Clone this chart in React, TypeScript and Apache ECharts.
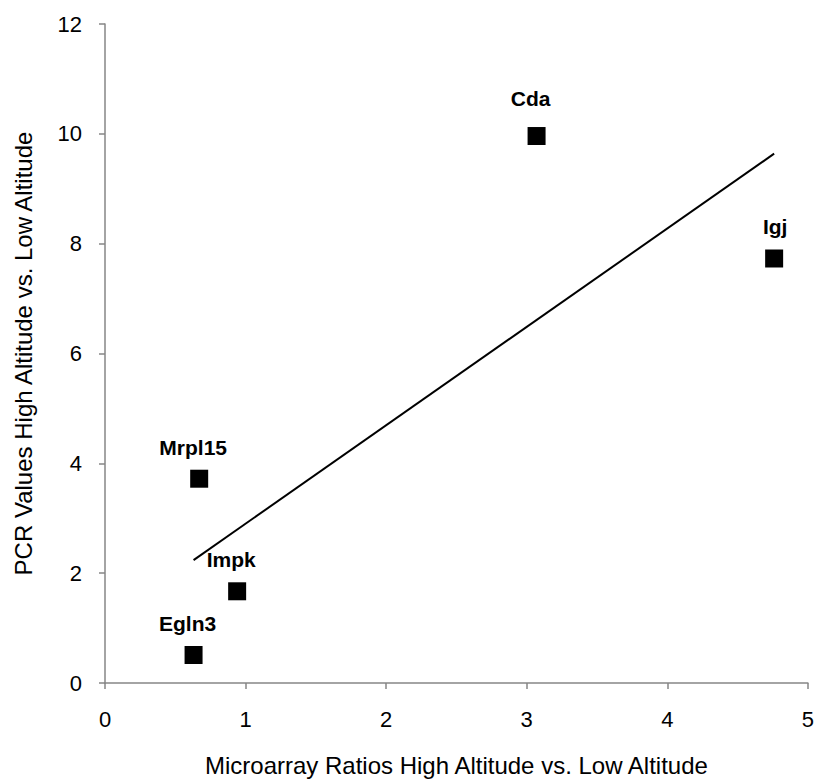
import React, { useEffect, useRef } from "react";
import * as echarts from "echarts";

// Gene names and their expression ratios
const genes = ["Cda", "Igj", "Mrpl15", "Impk", "Egln3"];
const microarrayRatios = [3.07, 4.76, 0.67, 0.94, 0.63];
const pcrValues = [9.96, 7.73, 3.72, 1.67, 0.51];

const xTicks = [0, 1, 2, 3, 4, 5];
const yTicks = [0, 2, 4, 6, 8, 10, 12];

// Least-squares trendline through the points
function trendline(xs: number[], ys: number[]) {
  const n = xs.length;
  const mx = xs.reduce((a, b) => a + b, 0) / n;
  const my = ys.reduce((a, b) => a + b, 0) / n;
  let sxy = 0;
  let sxx = 0;
  for (let i = 0; i < n; i++) {
    sxy += (xs[i] - mx) * (ys[i] - my);
    sxx += (xs[i] - mx) * (xs[i] - mx);
  }
  const slope = sxy / sxx;
  const intercept = my - slope * mx;
  const x0 = Math.min(...xs);
  const x1 = Math.max(...xs);
  return [
    [x0, intercept + slope * x0],
    [x1, intercept + slope * x1],
  ];
}

const FONT = "'Liberation Sans', Arial, sans-serif";

// Per-label nudges for a couple of the gene names
const labelTweaks: Record<string, any> = {
  Cda: { distance: 18 },
  Igj: { offset: [1, 0] },
};

export default function App() {
  const ref = useRef<HTMLDivElement>(null);

  useEffect(() => {
    if (!ref.current) return;
    const chart = echarts.init(ref.current, undefined, { renderer: "svg" });
    const points = genes.map((g, i) => ({
      name: g,
      value: [microarrayRatios[i], pcrValues[i]],
      ...(labelTweaks[g] ? { label: labelTweaks[g] } : {}),
    }));
    chart.setOption({
      animation: false,
      backgroundColor: "#ffffff",
      textStyle: { fontFamily: FONT },
      grid: { left: 105, right: 7, top: 24, bottom: 97 },
      xAxis: {
        type: "value",
        min: xTicks[0],
        max: xTicks[xTicks.length - 1],
        interval: 1,
        name: "Microarray Ratios High Altitude vs. Low Altitude",
        nameLocation: "middle",
        nameGap: 70,
        nameTextStyle: { fontSize: 24, color: "#000", fontFamily: FONT },
        axisLine: { show: true, lineStyle: { color: "#868686", width: 1.5 } },
        axisTick: { show: true, length: 6, lineStyle: { color: "#868686", width: 1.5 } },
        axisLabel: { fontSize: 22, color: "#000", margin: 25, fontFamily: FONT },
        splitLine: { show: false },
      },
      yAxis: {
        type: "value",
        min: yTicks[0],
        max: yTicks[yTicks.length - 1],
        interval: 2,
        name: "PCR Values High Altitude vs. Low Altitude",
        nameLocation: "middle",
        nameGap: 70,
        nameTextStyle: { fontSize: 24, color: "#000", fontFamily: FONT },
        axisLine: { show: true, lineStyle: { color: "#868686", width: 1.5 } },
        axisTick: { show: true, length: 6, lineStyle: { color: "#868686", width: 1.5 } },
        axisLabel: { fontSize: 22, color: "#000", margin: 23, fontFamily: FONT },
        splitLine: { show: false },
      },
      series: [
        {
          type: "line",
          data: trendline(microarrayRatios, pcrValues),
          showSymbol: false,
          symbol: "none",
          lineStyle: { color: "#000", width: 2 },
          z: 1,
        },
        {
          type: "scatter",
          data: points,
          symbol: "rect",
          symbolSize: 18,
          itemStyle: { color: "#000", opacity: 1 },
          label: {
            show: true,
            position: "top",
            distance: 12,
            offset: [-6, 0],
            formatter: (p: any) => p.name,
            fontSize: 21,
            fontWeight: "bold",
            color: "#000",
            fontFamily: FONT,
          },
          z: 2,
        },
      ],
    });
    return () => chart.dispose();
  }, []);

  return (
    <div
      ref={ref}
      style={{ position: "fixed", left: 0, top: 0, width: 817, height: 782 }}
    />
  );
}
